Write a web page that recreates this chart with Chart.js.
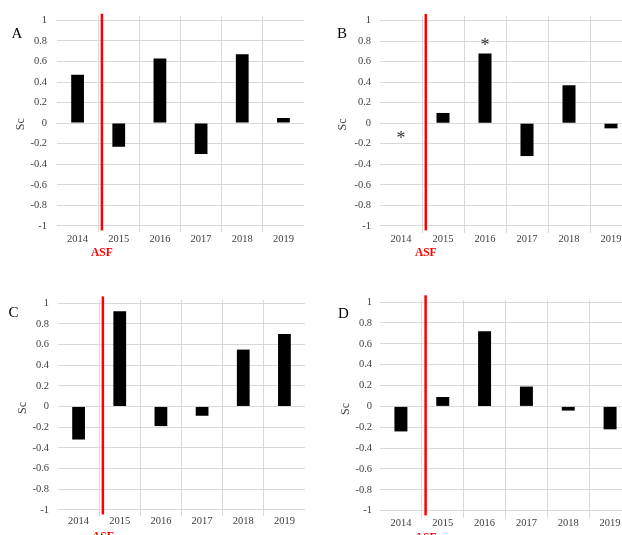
<!DOCTYPE html>
<html>
<head>
<meta charset="utf-8">
<script src="https://cdn.jsdelivr.net/npm/chart.js@4.4.0/dist/chart.umd.min.js"></script>
<style>
  html, body { margin: 0; padding: 0; background: #fff; overflow: hidden; width: 622px; height: 535px; }
  canvas { position: absolute; }
</style>
</head>
<body>
<canvas id="chartA" width="311" height="268" style="left:0;top:0"></canvas>
<canvas id="chartB" width="330" height="268" style="left:311px;top:0"></canvas>
<canvas id="chartC" width="311" height="267" style="left:0;top:268px"></canvas>
<canvas id="chartD" width="330" height="267" style="left:311px;top:268px"></canvas>
<script>
const years = ['2014', '2015', '2016', '2017', '2018', '2019'];
const yTicks = [-1, -0.8, -0.6, -0.4, -0.2, 0, 0.2, 0.4, 0.6, 0.8, 1];

const valuesA = [0.47, -0.23, 0.63, -0.30, 0.67, 0.05];
const valuesB = [null, 0.10, 0.68, -0.32, 0.37, -0.05];
const valuesC = [-0.32, 0.92, -0.19, -0.09, 0.55, 0.70];
const valuesD = [-0.24, 0.09, 0.72, 0.19, -0.04, -0.22];

// significance stars in panel B
const starYearsB = ['2014', '2016'];
const starValuesB = [-0.11, 0.79];

// ASF marker sits just after the 2014 category
const asfAt = 0.59;

const serif = '"Liberation Serif", "Times New Roman", serif';
const grey = '#404040';
Chart.defaults.font.family = serif;

const overlay = {
  id: 'overlay',
  afterDraw(chart, args, opts) {
    const ctx = chart.ctx;
    const x = chart.scales.x, y = chart.scales.y;
    ctx.save();

    // red ASF line + label
    const px = x.getPixelForValue(asfAt);
    ctx.strokeStyle = '#ff0000';
    ctx.lineWidth = 2.5;
    ctx.beginPath();
    ctx.moveTo(px, y.getPixelForValue(1.065));
    ctx.lineTo(px, y.getPixelForValue(-1.045));
    ctx.stroke();
    ctx.fillStyle = '#ff0000';
    ctx.font = 'bold 11.5px ' + serif;
    ctx.textAlign = 'center';
    ctx.textBaseline = 'alphabetic';
    ctx.fillText('ASF', px, y.getPixelForValue(-1) + 30);

    // panel letter
    ctx.fillStyle = '#000';
    ctx.font = '15px ' + serif;
    ctx.fillText(opts.letter, opts.letterX, opts.letterY);

    // stars
    if (opts.starYears) {
      ctx.fillStyle = '#333';
      ctx.font = '18px ' + serif;
      opts.starYears.forEach((yr, i) => {
        const sx = x.getPixelForValue(years.indexOf(yr));
        const sy = y.getPixelForValue(opts.starValues[i]);
        ctx.fillText('*', sx, sy + 9);
      });
    }
    ctx.restore();
  }
};

function makeChart(id, values, p) {
  new Chart(document.getElementById(id), {
    type: 'bar',
    data: {
      labels: years,
      datasets: [{
        data: values,
        backgroundColor: '#000',
        borderWidth: 0,
        barPercentage: 0.31,
        categoryPercentage: 1
      }]
    },
    options: {
      responsive: false,
      animation: false,
      layout: { padding: { left: 0, top: p.top, right: p.right, bottom: 0 } },
      plugins: {
        legend: { display: false },
        tooltip: { enabled: false },
        overlay: { letter: p.letter, letterX: p.letterX, letterY: p.letterY, starYears: p.starYears, starValues: p.starValues }
      },
      scales: {
        x: {
          grid: { color: c => (c.index > 0 ? '#d9d9d9' : 'transparent'), drawTicks: false },
          border: { display: false },
          ticks: { padding: p.xPad, color: grey, font: { size: 10.5 } },
          afterFit: s => { s.height = p.xHeight; }
        },
        y: {
          min: p.min,
          max: p.max,
          afterBuildTicks: s => { s.ticks = yTicks.map(v => ({ value: v })); },
          grid: { color: '#d9d9d9', drawTicks: false },
          border: { display: false },
          ticks: {
            padding: p.yPad, color: grey, font: { size: 10.5 }, autoSkip: false,
            callback: v => String(Math.round(v * 10) / 10)
          },
          title: { display: true, text: 'Sc', color: grey, font: { size: 12 }, padding: { top: p.titlePad, bottom: 0 } },
          afterFit: s => { s.width = p.left; }
        }
      }
    },
    plugins: [overlay]
  });
}

makeChart('chartA', valuesA, { left: 57, top: 15, right: 7, xHeight: 36, min: -1.06, max: 1.04, xPad: 1, yPad: 10, titlePad: 13.5, letter: 'A', letterX: 17, letterY: 37.5 });
makeChart('chartB', valuesB, { left: 69, top: 16, right: 9, xHeight: 35, min: -1.07, max: 1.045, xPad: 0, yPad: 9, titlePad: 25, letter: 'B', letterX: 31, letterY: 38, starYears: starYearsB, starValues: starValuesB });
makeChart('chartC', valuesC, { left: 58, top: 32, right: 6, xHeight: 19, min: -1.06, max: 1.03, xPad: -1, yPad: 9, titlePad: 16, letter: 'C', letterX: 13.5, letterY: 48.5 });
makeChart('chartD', valuesD, { left: 69, top: 32, right: 10, xHeight: 17, min: -1.07, max: 1.02, xPad: -1, yPad: 8, titlePad: 28, letter: 'D', letterX: 32.5, letterY: 49.5 });
</script>
</body>
</html>
